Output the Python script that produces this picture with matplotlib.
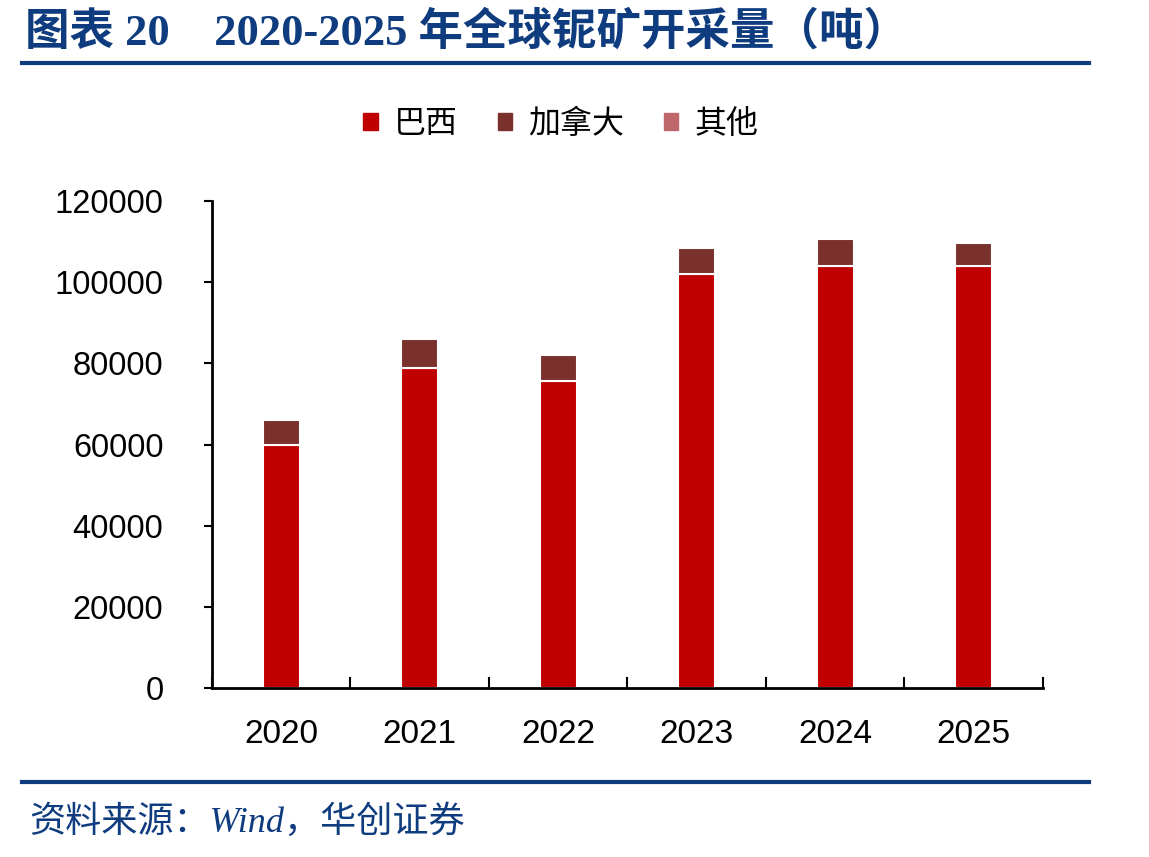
import numpy as np
import matplotlib
matplotlib.use('Agg')
from matplotlib import pyplot as plt
from matplotlib.lines import Line2D
from matplotlib.patches import Patch

plt.rcParams['font.family'] = ['Liberation Sans', 'Noto Sans CJK SC', 'DejaVu Sans']

# 数据（吨）
years = ['2020', '2021', '2022', '2023', '2024', '2025']
brazil = [60000, 78900, 75700, 102000, 104000, 104000]
canada = [6000, 7000, 6400, 6400, 6600, 5700]
others = [0, 0, 0, 0, 0, 0]

c_brazil = '#C00000'
c_canada = '#7A312B'
c_others = '#C0676C'
blue = '#0E3C7E'

fig = plt.figure(figsize=(11.49, 8.57), dpi=100)
ax = fig.add_axes([0.1845, 0.197, 0.7232, 0.5685])

x = np.arange(len(years))
w = 0.27
brazil = np.array(brazil)
canada = np.array(canada)
others = np.array(others)
ax.bar(x, brazil, w, color=c_brazil, edgecolor='white', linewidth=1.5, label='巴西')
ax.bar(x, canada, w, bottom=brazil, color=c_canada, edgecolor='white', linewidth=1.5, label='加拿大')
ax.bar(x, others, w, bottom=brazil + canada, color=c_others, edgecolor='white', linewidth=0, label='其他')

ax.set_xlim(-0.5, len(years) - 0.5)
ax.set_ylim(0, 120000)
ax.set_yticks(np.arange(0, 120001, 20000))
ax.tick_params(axis='y', direction='out', length=6, width=1.5, labelsize=23.5, pad=29)

# x轴：分隔刻度朝上，标签居中
ax.set_xticks(np.arange(-0.5, len(years), 1))
ax.set_xticklabels([])
ax.tick_params(axis='x', which='major', direction='in', length=8, width=1.5)
ax.set_xticks(x, minor=True)
ax.set_xticklabels(years, minor=True)
ax.tick_params(axis='x', which='minor', length=0, labelsize=24, pad=22)

for s in ['top', 'right']:
    ax.spines[s].set_visible(False)
for s in ['left', 'bottom']:
    ax.spines[s].set_linewidth(2)

handles = [Patch(color=c_brazil, label='巴西'),
           Patch(color=c_canada, label='加拿大'),
           Patch(color=c_others, label='其他')]
fig.legend(handles=handles, loc='center', bbox_to_anchor=(0.488, 0.855), ncol=3,
           frameon=False, handlelength=0.45, handleheight=0.45,
           handletextpad=0.5, columnspacing=1.25,
           prop={'family': ['Noto Sans CJK SC'], 'size': 23})

# 标题和来源
fig.text(0.022, 0.962, '图表 20    2020-2025 年全球铌矿开采量（吨）', color=blue,
         fontsize=32, fontweight='bold', va='center', ha='left',
         family=['Liberation Serif', 'Noto Sans CJK SC'])
fig.add_artist(Line2D([0.019, 0.948], [0.927, 0.927], color=blue, linewidth=3))
fig.add_artist(Line2D([0.019, 0.948], [0.088, 0.088], color=blue, linewidth=3))
fig.text(0.025, 0.040, '资料来源：Wind，华创证券', color=blue, fontsize=26,
         style='italic', va='center', ha='left',
         family=['Liberation Serif', 'Noto Sans CJK SC'])

plt.savefig('out.png', dpi=100)
